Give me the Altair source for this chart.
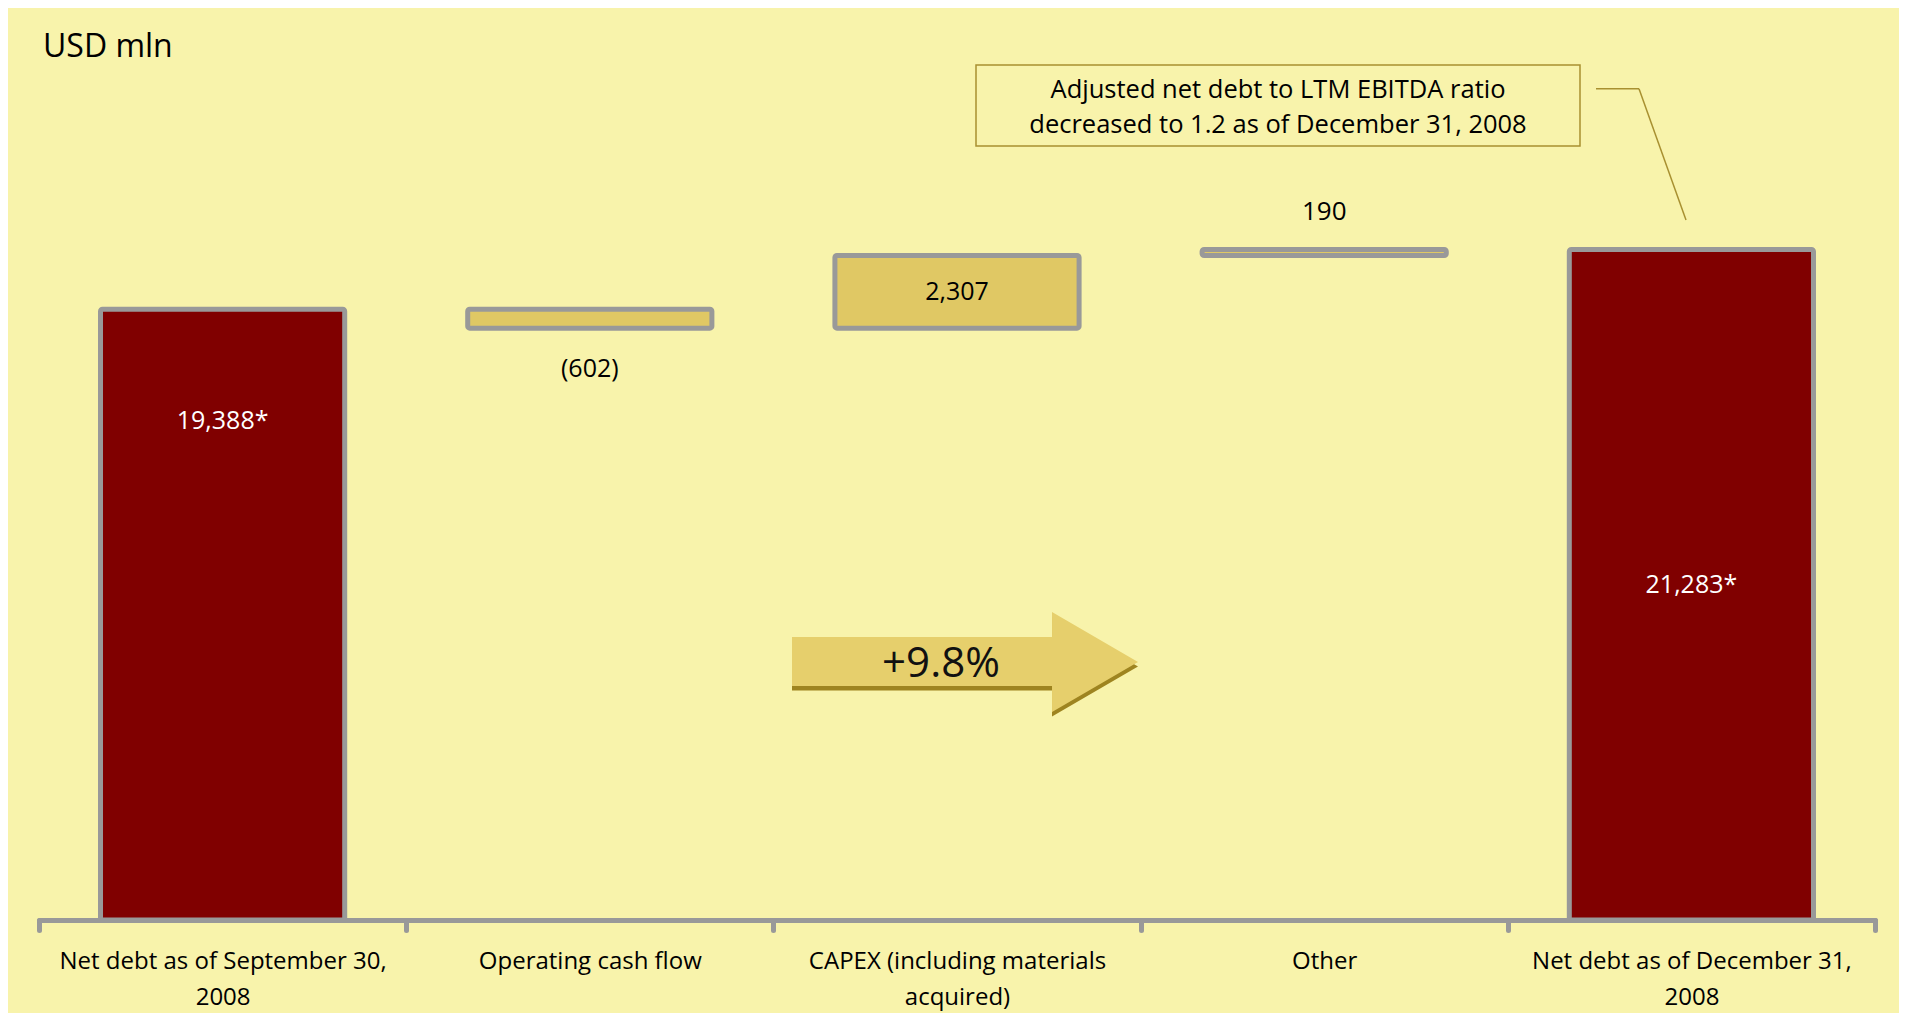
import json
import altair as alt
import pandas as pd

# ---------------- data ----------------
categories = [
    "Net debt as of September 30, 2008",
    "Operating cash flow",
    "CAPEX (including materials acquired)",
    "Other",
    "Net debt as of December 31, 2008",
]
category_lines = [
    ["Net debt as of September 30,", "2008"],
    ["Operating cash flow"],
    ["CAPEX (including materials", "acquired)"],
    ["Other"],
    ["Net debt as of December 31,", "2008"],
]
values = [19388, -602, 2307, 190, 21283]
kinds = ["total", "change", "change", "change", "total"]
value_labels = ["19,388*", "(602)", "2,307", "190", "21,283*"]
unit_label = "USD mln"
note_lines = ["Adjusted net debt to LTM EBITDA ratio", "decreased to 1.2 as of December 31, 2008"]
growth_label = "+9.8%"

# ---------------- derived table ----------------
rows = []
running = 0
for cat, v, k, lab in zip(categories, values, kinds, value_labels):
    if k == "total":
        start, end = 0, v
    else:
        start, end = running, running + v
    running = end
    rows.append({
        "category": cat, "start": start, "end": end, "kind": k, "label": lab,
        "top": max(start, end), "bottom": min(start, end), "mid": (start + end) / 2,
    })
df = pd.DataFrame(rows)

FONT = "Open Sans"
BG = "#F8F3AB"
GRAY = "#999999"
GOLD = "#E0C864"
RED = "#800000"
OLIVE = "#A89030"

label_expr = ""
for cat, lines in zip(categories, category_lines):
    label_expr += f"datum.label == {json.dumps(cat)} ? {json.dumps(lines)} : "
label_expr += "datum.label"

x_enc = alt.X(
    "category:N",
    sort=categories,
    scale=alt.Scale(paddingInner=0, paddingOuter=0),
    axis=alt.Axis(
        title=None, labelAngle=0, labelExpr=label_expr, labelFont=FONT,
        labelFontSize=24, labelColor="#000000", labelLineHeight=36,
        labelPadding=19, labelLimit=500, labelOverlap=False,
        domainColor=GRAY, domainWidth=5, domainCap="round",
        tickColor=GRAY, tickWidth=5, tickSize=10, tickCap="round",
        tickBand="extent", zindex=1,
    ),
)
y_scale = alt.Scale(domain=[0, 28950], nice=False, zero=False)

base = alt.Chart(df)

bars = base.mark_bar(
    width=alt.RelativeBandSize(0.665), stroke=GRAY, strokeWidth=5, cornerRadius=2
).encode(
    x=x_enc,
    y=alt.Y("start:Q", scale=y_scale, axis=None),
    y2="end:Q",
    fill=alt.condition("datum.kind == 'total'", alt.value(RED), alt.value(GOLD)),
)

def lab_layer(cat, field, dy, color, size=25):
    return base.transform_filter(alt.datum.category == cat).mark_text(
        font=FONT, fontSize=size, color=color, baseline="middle", dy=dy
    ).encode(
        x=alt.X("category:N", sort=categories),
        y=alt.Y(f"{field}:Q", scale=y_scale, axis=None),
        text="label:N",
    )

labels = [
    lab_layer(categories[0], "top", 112, "#FFFFFF"),
    lab_layer(categories[1], "bottom", 41, "#000000"),
    lab_layer(categories[2], "mid", 0, "#000000"),
    lab_layer(categories[3], "top", -38, "#000000", 26),
    lab_layer(categories[4], "mid", 0, "#FFFFFF"),
]

one = alt.Data(values=[{}])

unit = alt.Chart(one).mark_text(
    font=FONT, fontSize=32, color="#000000", align="left", baseline="alphabetic"
).encode(x=alt.value(4), y=alt.value(49), text=alt.value(unit_label))

box = alt.Chart(one).mark_rect(
    fill=BG, stroke=OLIVE, strokeWidth=1.5
).encode(x=alt.value(937), x2=alt.value(1541), y=alt.value(57), y2=alt.value(138))

note1 = alt.Chart(one).mark_text(
    font=FONT, fontSize=25.5, color="#000000", align="center", baseline="middle"
).encode(x=alt.value(1239), y=alt.value(82), text=alt.value(note_lines[0]))
note2 = alt.Chart(one).mark_text(
    font=FONT, fontSize=25.5, color="#000000", align="center", baseline="middle"
).encode(x=alt.value(1239), y=alt.value(117), text=alt.value(note_lines[1]))

lead1 = alt.Chart(one).mark_rule(color=OLIVE, strokeWidth=1.5).encode(
    x=alt.value(1557), x2=alt.value(1600), y=alt.value(80.7), y2=alt.value(80.7))
lead2 = alt.Chart(one).mark_rule(color=OLIVE, strokeWidth=1.5).encode(
    x=alt.value(1600), x2=alt.value(1647), y=alt.value(80.7), y2=alt.value(212))

arrow_path = "M-1,-0.1445 L0.503,-0.1445 L0.503,-0.289 L1,0 L0.503,0.289 L0.503,0.139 L-1,0.139 Z"
arrow_shadow = alt.Chart(one).mark_point(
    shape=arrow_path, size=119716, filled=True, fill="#9E8420", opacity=1, strokeWidth=0
).encode(x=alt.value(926), y=alt.value(658.5))
arrow = alt.Chart(one).mark_point(
    shape=arrow_path, size=119716, filled=True, fill="#E6CF6C", opacity=1, strokeWidth=0
).encode(x=alt.value(926), y=alt.value(654))
growth = alt.Chart(one).mark_text(
    font=FONT, fontSize=42, color="#111111", align="center", baseline="middle"
).encode(x=alt.value(902), y=alt.value(656), text=alt.value(growth_label))

chart = alt.layer(
    arrow_shadow, arrow, growth, bars, *labels, unit, box, note1, note2, lead1, lead2
).properties(
    width=1836, height=912,
    autosize=alt.AutoSizeParams(type="none"),
    padding={"left": 31, "top": 0, "right": 24, "bottom": 93},
).configure(background=BG).configure_view(strokeWidth=0)

chart.save("out.html", embed_options={"renderer": "svg", "actions": False})
